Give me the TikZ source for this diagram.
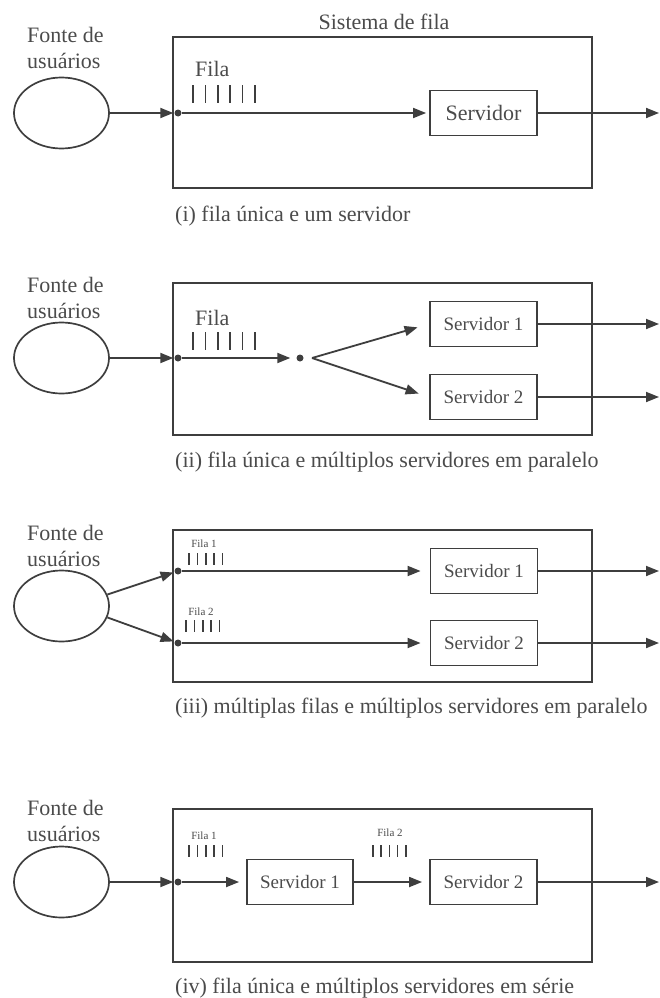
\documentclass[tikz,border=0pt]{standalone}
\usepackage{fontspec}
\setmainfont{Liberation Serif}
\usetikzlibrary{arrows.meta,shapes.geometric}
\definecolor{lc}{RGB}{62,62,62}
\definecolor{tc}{RGB}{75,75,75}
\begin{document}
\begin{tikzpicture}[x=1pt,y=-1pt,
  ln/.style={draw=lc, line width=1.8pt},
  arr/.style={ln, -{Triangle[length=13pt,width=10pt]}},
  src/.style={ellipse, draw=lc, line width=1.7pt, minimum width=95pt, minimum height=71pt, inner sep=0pt},
  sys/.style={rectangle, draw=lc, line width=1.9pt, inner sep=0pt, minimum width=419pt},
  srv/.style={rectangle, draw=lc, line width=1.8pt, minimum width=107pt, minimum height=45pt, inner sep=0pt, text=tc, font=\fontsize{19}{22}\selectfont},
  dotn/.style={circle, fill=lc, minimum size=7pt, inner sep=0pt},
  txt/.style={text=tc, font=\fontsize{22}{26}\selectfont, inner sep=0pt},
  smalltxt/.style={text=tc, font=\fontsize{11}{13}\selectfont, inner sep=0pt},
  tick/.style={draw=lc, line width=1.7pt},
  stick/.style={draw=lc, line width=1.5pt}]
\useasboundingbox (0,0) rectangle (659,998);
\coordinate (outR) at (659,0);

% ---------- (i) ----------
\node[sys, minimum height=151pt] (sys1) at (382.5,112.5) {};
\node[txt, anchor=base] (title) at (384,30) {Sistema de fila};
\node[src] (src1) at (61.5,113) {};
\node[txt, anchor=north west, align=left] (lab1) at (27,27) {Fonte de\\usuários};
\node[dotn] (d1) at (178,113) {};
\node[srv, font=\fontsize{22}{26}\selectfont] (s1) at (483.5,113) {Servidor};
\node[txt, anchor=base west] (f1) at (195,77) {Fila};
\foreach \i in {0,...,5} \draw[tick] (193+\i*12.4,85) -- ++(0,18);
\draw[arr, shorten >=1pt] (src1) -- (d1);
\draw[arr, shorten >=3pt] (d1) -- (s1);
\draw[arr] (s1.east) -- (s1.east -| outR);
\node[txt, anchor=base west] (c1) at (175,221) {(i) fila única e um servidor};

% ---------- (ii) ----------
\node[sys, minimum height=152pt] (sys2) at (382.5,359) {};
\node[src] (src2) at (61.5,358) {};
\node[txt, anchor=north west, align=left] (lab2) at (27,277) {Fonte de\\usuários};
\node[dotn] (d2a) at (178,358) {};
\node[dotn] (d2b) at (300,358) {};
\coordinate (fork) at (312,358);
\node[srv] (s21) at (483.5,324) {Servidor 1};
\node[srv] (s22) at (483.5,397) {Servidor 2};
\node[txt, anchor=base west] (f2) at (195,325) {Fila};
\foreach \i in {0,...,5} \draw[tick] (193+\i*12.4,332) -- ++(0,18);
\draw[arr, shorten >=1pt] (src2) -- (d2a);
\draw[arr, shorten >=6pt] (d2a) -- (d2b);
\draw[arr, shorten >=12pt] (fork) -- (s21.west);
\draw[arr, shorten >=11pt] (fork) -- (s22.west);
\draw[arr] (s21.east) -- (s21.east -| outR);
\draw[arr] (s22.east) -- (s22.east -| outR);
\node[txt, anchor=base west] (c2) at (175,467) {(ii) fila única e múltiplos servidores em paralelo};

% ---------- (iii) ----------
\node[sys, minimum height=152pt] (sys3) at (382.5,606) {};
\node[src] (src3) at (61.5,606) {};
\node[txt, anchor=north west, align=left] (lab3) at (27,525) {Fonte de\\usuários};
\node[dotn] (d3a) at (178,571) {};
\node[dotn] (d3b) at (178,643) {};
\node[srv] (s31) at (484,571) {Servidor 1};
\node[srv] (s32) at (484,643) {Servidor 2};
\node[smalltxt] (f31) at (204,544) {Fila 1};
\foreach \i in {0,...,4} \draw[stick] (189+\i*8.4,553) -- ++(0,12);
\node[smalltxt] (f32) at (201,612) {Fila 2};
\foreach \i in {0,...,4} \draw[stick] (186+\i*8.4,620) -- ++(0,12);
\draw[arr, shorten >=1pt] (src3.14) -- (d3a);
\draw[arr, shorten >=1pt] (src3.-14) -- (d3b);
\draw[arr, shorten >=9pt] (d3a) -- (s31);
\draw[arr, shorten >=9pt] (d3b) -- (s32);
\draw[arr] (s31.east) -- (s31.east -| outR);
\draw[arr] (s32.east) -- (s32.east -| outR);
\node[txt, anchor=base west] (c3) at (175,713) {(iii) múltiplas filas e múltiplos servidores em paralelo};

% ---------- (iv) ----------
\node[sys, minimum height=153pt] (sys4) at (382.5,885.5) {};
\node[src] (src4) at (61.5,882) {};
\node[txt, anchor=north west, align=left] (lab4) at (27,800) {Fonte de\\usuários};
\node[dotn] (d4) at (178,882) {};
\node[srv, minimum width=106pt] (s41) at (300,882) {Servidor 1};
\node[srv] (s42) at (483.5,882) {Servidor 2};
\node[smalltxt] (f41) at (204,836) {Fila 1};
\foreach \i in {0,...,4} \draw[stick] (189+\i*8.4,845) -- ++(0,12);
\node[smalltxt] (f42) at (390,833) {Fila 2};
\foreach \i in {0,...,4} \draw[stick] (373+\i*8.2,845) -- ++(0,12);
\draw[arr, shorten >=1pt] (src4) -- (d4);
\draw[arr, shorten >=7pt] (d4) -- (s41);
\draw[arr, shorten >=7pt] (s41) -- (s42);
\draw[arr] (s42.east) -- (s42.east -| outR);
\node[txt, anchor=base west] (c4) at (175,993) {(iv) fila única e múltiplos servidores em série};
\end{tikzpicture}
\end{document}
